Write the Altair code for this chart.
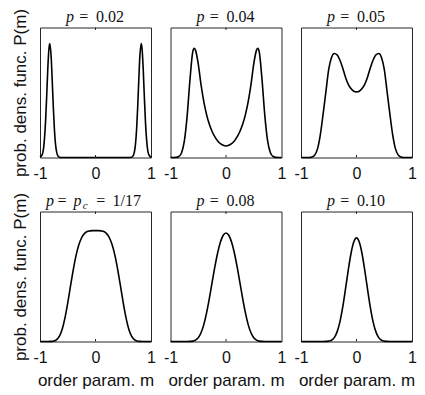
import altair as alt
import pandas as pd

# ---- data (P(m) as fraction of panel height) ----
m1 = [-1.0, -0.96, -0.93, -0.90, -0.88, -0.86, -0.84, -0.824, -0.80, -0.78, -0.76, -0.74,
      -0.72, -0.70, -0.68, -0.65, -0.60, -0.40, 0.0, 0.40, 0.60, 0.65, 0.68, 0.70, 0.72,
      0.74, 0.76, 0.78, 0.80, 0.824, 0.84, 0.86, 0.88, 0.90, 0.93, 0.96, 1.0]
P1 = [0.002, 0.022, 0.093, 0.276, 0.468, 0.677, 0.833, 0.877, 0.782, 0.596, 0.387, 0.214,
      0.101, 0.041, 0.014, 0.002, 0.0, 0.0, 0.0, 0.0, 0.0, 0.002, 0.014, 0.041, 0.101,
      0.214, 0.387, 0.596, 0.782, 0.877, 0.833, 0.677, 0.468, 0.276, 0.093, 0.022, 0.002]

m2 = [-1.0, -0.95, -0.90, -0.85, -0.80, -0.75, -0.70, -0.65, -0.60, -0.575, -0.55, -0.50,
      -0.45, -0.40, -0.35, -0.30, -0.25, -0.20, -0.15, -0.10, -0.05, 0.0, 0.05, 0.10, 0.15,
      0.20, 0.25, 0.30, 0.35, 0.40, 0.45, 0.50, 0.55, 0.575, 0.60, 0.65, 0.70, 0.75, 0.80,
      0.85, 0.90, 0.95, 1.0]
P2 = [0.0, 0.0, 0.001, 0.008, 0.037, 0.127, 0.32, 0.594, 0.81, 0.84, 0.826, 0.72,
      0.56, 0.43, 0.33, 0.255, 0.20, 0.158, 0.127, 0.106, 0.094, 0.089, 0.094, 0.106, 0.127,
      0.158, 0.20, 0.255, 0.33, 0.43, 0.56, 0.72, 0.826, 0.84, 0.81, 0.594, 0.32, 0.127, 0.037,
      0.008, 0.001, 0.0, 0.0]

m3 = [-1.0, -0.95, -0.90, -0.85, -0.80, -0.75, -0.70, -0.65, -0.60, -0.55, -0.50, -0.45,
      -0.40, -0.35, -0.30, -0.25, -0.20, -0.15, -0.10, -0.05, 0.0, 0.05, 0.10, 0.15, 0.20,
      0.25, 0.30, 0.35, 0.40, 0.45, 0.50, 0.55, 0.60, 0.65, 0.70, 0.75, 0.80, 0.85, 0.90,
      0.95, 1.0]
P3 = [0.0, 0.0, 0.0, 0.0, 0.004, 0.02, 0.07, 0.18, 0.34, 0.51, 0.68, 0.77,
      0.80, 0.79, 0.75, 0.69, 0.62, 0.565, 0.53, 0.51, 0.505, 0.51, 0.53, 0.565, 0.62,
      0.69, 0.75, 0.79, 0.80, 0.77, 0.68, 0.51, 0.34, 0.18, 0.07, 0.02, 0.004, 0.0, 0.0,
      0.0, 0.0]

m4 = m3
P4 = [0.0, 0.0, 0.0, 0.0, 0.001, 0.004, 0.015, 0.042, 0.095, 0.182, 0.297, 0.427,
      0.553, 0.662, 0.744, 0.798, 0.830, 0.846, 0.851, 0.853, 0.853, 0.853, 0.851, 0.846, 0.830,
      0.798, 0.744, 0.662, 0.553, 0.427, 0.297, 0.182, 0.095, 0.042, 0.015, 0.004, 0.001, 0.0, 0.0,
      0.0, 0.0]

m5 = m3
P5 = [0.0, 0.0, 0.0, 0.0, 0.0, 0.0, 0.0, 0.001, 0.003, 0.011, 0.029, 0.067,
      0.130, 0.220, 0.332, 0.455, 0.576, 0.683, 0.765, 0.817, 0.835, 0.817, 0.765, 0.683, 0.576,
      0.455, 0.332, 0.220, 0.130, 0.067, 0.029, 0.011, 0.003, 0.001, 0.0, 0.0, 0.0, 0.0, 0.0,
      0.0, 0.0]

m6 = m3
P6 = [0.0, 0.0, 0.0, 0.0, 0.0, 0.0, 0.0, 0.0, 0.0, 0.001, 0.003, 0.010,
      0.030, 0.074, 0.149, 0.260, 0.399, 0.545, 0.675, 0.765, 0.797, 0.765, 0.675, 0.545, 0.399,
      0.260, 0.149, 0.074, 0.030, 0.010, 0.003, 0.001, 0.0, 0.0, 0.0, 0.0, 0.0, 0.0, 0.0,
      0.0, 0.0]

# title pieces: (text, italic, x in panel, align, font size, baseline shift)
def simple_title(value):
    return [("p", True, 26, "left", 16, 0), ("=", False, 43.8, "center", 16, 0),
            (value, False, 56, "left", 16, 0)]

T1 = simple_title("0.02")
T2 = simple_title("0.04")
T3 = simple_title("0.05")
T4 = [("p", True, 6, "left", 16, 0), ("=", False, 22, "center", 16, 0),
      ("p", True, 33.6, "left", 16, 0), ("c", True, 42.8, "left", 11, 3),
      ("=", False, 60.8, "center", 16, 0), ("1/17", False, 72.6, "left", 16, 0)]
T5 = simple_title("0.08")
T6 = simple_title("0.10")

W, H = 111, 130
INK = "#262626"


def panel(m, P, pieces, ytitle, xtitle):
    df = pd.DataFrame({"m": m, "P": P})
    xaxis = alt.Axis(values=[-1, 0, 1], ticks=False, domain=False, grid=False,
                     labelExpr="'' + datum.value", labelFlush=False, labelOverlap=False,
                     labelFont="Liberation Sans", labelFontSize=16, labelColor="#111",
                     labelPadding=7.5, titleFont="Liberation Sans", titleFontSize=17,
                     titleFontWeight="normal", titleColor="#111", titlePadding=7)
    x = alt.X("m:Q", scale=alt.Scale(domain=[-1, 1], nice=False, zero=False),
              axis=xaxis, title=("order param. m" if xtitle else None))
    if ytitle:
        y = alt.Y("P:Q", scale=alt.Scale(domain=[0, 1], nice=False),
                  axis=alt.Axis(labels=False, ticks=False, domain=False, grid=False,
                                titleFont="Liberation Sans", titleFontSize=17,
                                titleFontWeight="normal", titleColor="#111",
                                titlePadding=11),
                  title="prob. dens. func. P(m)")
    else:
        y = alt.Y("P:Q", scale=alt.Scale(domain=[0, 1], nice=False), axis=None)
    line = alt.Chart(df).mark_line(color="black", strokeWidth=1.6,
                                   interpolate="monotone").encode(x=x, y=y)
    tick_df = pd.DataFrame({"m": [0]})
    t_top = alt.Chart(tick_df).mark_rule(color=INK, strokeWidth=1).encode(
        x="m:Q", y=alt.value(0), y2=alt.value(2.5))
    t_bot = alt.Chart(tick_df).mark_rule(color=INK, strokeWidth=1).encode(
        x="m:Q", y=alt.value(H - 2.5), y2=alt.value(H))
    layers = [line, t_top, t_bot]
    for text, ital, xo, al, fs, dy in pieces:
        tdf = pd.DataFrame({"t": [text]})
        layers.append(
            alt.Chart(tdf).mark_text(align=al, baseline="alphabetic",
                                     font="Liberation Serif", fontSize=fs,
                                     fontStyle=("italic" if ital else "normal"),
                                     color="#111").encode(
                x=alt.value(xo), y=alt.value(-6 + dy), text="t:N"))
    return alt.layer(*layers).properties(width=W, height=H)


panels = [
    panel(m1, P1, T1, True, False), panel(m2, P2, T2, False, False),
    panel(m3, P3, T3, False, False),
    panel(m4, P4, T4, True, True), panel(m5, P5, T5, False, True),
    panel(m6, P6, T6, False, True),
]

chart = alt.concat(*panels, columns=3, spacing={"row": 54, "column": 19.5},
                   bounds="flush").properties(
    padding={"left": 2, "top": -0.5, "right": 0, "bottom": 0},
    background="white",
).configure_view(stroke=INK, strokeWidth=1)

chart.save("out.html", embed_options={"renderer": "svg", "actions": False})
